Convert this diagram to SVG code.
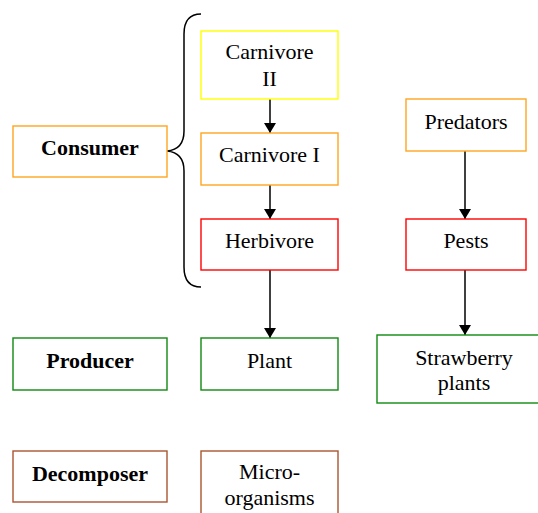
<svg xmlns="http://www.w3.org/2000/svg" width="538" height="513" viewBox="0 0 538 513">
<style>
rect{fill:#fff;stroke-width:1.4}
.b{font-weight:bold}
.y{stroke:#ffff00}.o{stroke:#ffa520}.r{stroke:#ff0000}.g{stroke:#108a10}.br{stroke:#aa5530}
.c{stroke:#000;stroke-width:1.5;fill:none}
</style>
<defs>
<marker id="ah" markerWidth="10" markerHeight="12" refX="10" refY="6" orient="auto" markerUnits="userSpaceOnUse">
<path d="M0,0 L10,6 L0,12 Z" fill="#000"/>
</marker>
</defs>
<rect width="538" height="513" fill="#fff" stroke="none"/>
<g id="connectors">
<path class="c" d="M201,14 C190,14 184,20 184,34 L184,131 C184,143 178,150 167,151 C178,152 184,159 184,171 L184,267 C184,281 190,287 201,287"/>
<line class="c" x1="270" y1="99" x2="270" y2="133" marker-end="url(#ah)"/>
<line class="c" x1="270" y1="185" x2="270" y2="219" marker-end="url(#ah)"/>
<line class="c" x1="270" y1="270" x2="270" y2="338" marker-end="url(#ah)"/>
<line class="c" x1="465" y1="151" x2="465" y2="219" marker-end="url(#ah)"/>
<line class="c" x1="465" y1="270" x2="465" y2="335" marker-end="url(#ah)"/>
</g>
<g id="consumer"><rect class="o" x="13" y="126" width="154" height="51"/><text class="b" x="90" y="155" font-family="Liberation Serif" font-size="22" text-anchor="middle">Consumer</text></g>
<g id="carnivore2"><rect class="y" x="201" y="31" width="137" height="68"/><text x="269.5" y="59" font-family="Liberation Serif" font-size="22" text-anchor="middle">Carnivore</text><text x="269.5" y="86" font-family="Liberation Serif" font-size="22" text-anchor="middle">II</text></g>
<g id="carnivore1"><rect class="o" x="201" y="133" width="137" height="52"/><text x="269.5" y="162" font-family="Liberation Serif" font-size="22" text-anchor="middle">Carnivore I</text></g>
<g id="herbivore"><rect class="r" x="201" y="219" width="137" height="51"/><text x="269.5" y="248" font-family="Liberation Serif" font-size="22" text-anchor="middle">Herbivore</text></g>
<g id="predators"><rect class="o" x="406" y="99" width="120" height="52"/><text x="466" y="129" font-family="Liberation Serif" font-size="22" text-anchor="middle">Predators</text></g>
<g id="pests"><rect class="r" x="406" y="219" width="120" height="51"/><text x="466" y="248" font-family="Liberation Serif" font-size="22" text-anchor="middle">Pests</text></g>
<g id="strawberry"><rect class="g" x="377" y="335" width="176" height="68"/><text x="464" y="365" font-family="Liberation Serif" font-size="22" text-anchor="middle">Strawberry</text><text x="464" y="390" font-family="Liberation Serif" font-size="22" text-anchor="middle">plants</text></g>
<g id="producer"><rect class="g" x="13" y="338" width="154" height="52"/><text class="b" x="90" y="368" font-family="Liberation Serif" font-size="22" text-anchor="middle">Producer</text></g>
<g id="plant"><rect class="g" x="201" y="338" width="137" height="52"/><text x="269.5" y="368" font-family="Liberation Serif" font-size="22" text-anchor="middle">Plant</text></g>
<g id="decomposer"><rect class="br" x="13" y="451" width="154" height="51"/><text class="b" x="90" y="481" font-family="Liberation Serif" font-size="22" text-anchor="middle">Decomposer</text></g>
<g id="microorganisms"><rect class="br" x="201" y="451" width="137" height="70"/><text x="269.5" y="479" font-family="Liberation Serif" font-size="22" text-anchor="middle">Micro-</text><text x="269.5" y="505" font-family="Liberation Serif" font-size="22" text-anchor="middle">organisms</text></g>
</svg>
